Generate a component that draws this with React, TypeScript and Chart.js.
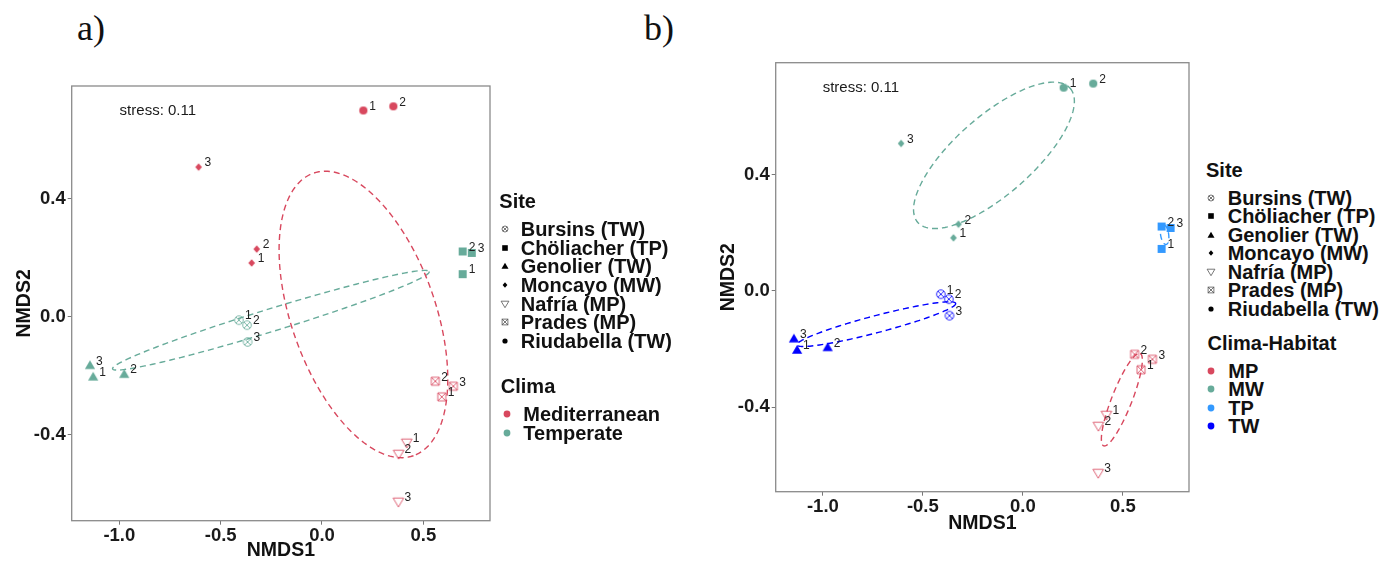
import React, { useEffect, useRef } from 'react';
import { Chart, registerables } from 'chart.js';
Chart.register(...registerables);

const FONT = '"Liberation Sans", Arial, Helvetica, sans-serif';

// ---------------- data ----------------
const SITES = ['Bursins (TW)', 'Chöliacher (TP)', 'Genolier (TW)', 'Moncayo (MW)', 'Nafría (MP)', 'Prades (MP)', 'Riudabella (TW)'];
const REPLICATES = [['1', '2', '3'], ['1', '2', '3'], ['1', '2', '3'], ['1', '2', '3'], ['1', '2', '3'], ['1', '2', '3'], ['1', '2']];

const BURSINS_X = [-0.410, -0.370, -0.367];
const BURSINS_Y = [-0.011, -0.028, -0.085];
const CHOLIACHER_X = [0.694, 0.694, 0.739];
const CHOLIACHER_Y = [0.145, 0.222, 0.217];
const GENOLIER_X = [-1.129, -0.976, -1.145];
const GENOLIER_Y = [-0.203, -0.194, -0.164];
const MONCAYO_X = [-0.347, -0.322, -0.609];
const MONCAYO_Y = [0.183, 0.230, 0.508];
const NAFRIA_X = [0.418, 0.378, 0.377];
const NAFRIA_Y = [-0.427, -0.465, -0.627];
const PRADES_X = [0.591, 0.559, 0.648];
const PRADES_Y = [-0.271, -0.218, -0.235];
const RIUDABELLA_X = [0.204, 0.352];
const RIUDABELLA_Y = [0.700, 0.714];

const SITE_X = [BURSINS_X, CHOLIACHER_X, GENOLIER_X, MONCAYO_X, NAFRIA_X, PRADES_X, RIUDABELLA_X];
const SITE_Y = [BURSINS_Y, CHOLIACHER_Y, GENOLIER_Y, MONCAYO_Y, NAFRIA_Y, PRADES_Y, RIUDABELLA_Y];

const CLIMA = ['Mediterranean', 'Temperate'];
const SITE_CLIMA = ['Temperate', 'Temperate', 'Temperate', 'Mediterranean', 'Mediterranean', 'Mediterranean', 'Mediterranean'];
const HABITAT = ['MP', 'MW', 'TP', 'TW'];
const SITE_HABITAT = ['TW', 'TP', 'TW', 'MW', 'MP', 'MP', 'MW'];

// ellipse conjugate semi-axes (ux, uy, vx, vy) per group
const CLIMA_ELLIPSE_AXES = [[0.247, -0.479, -0.335, -0.081], [0.781, 0.165, 0.0164, -0.0366]];
const HABITAT_ELLIPSE_AXES = [[0.0913, 0.159, 0.0465, -0.0134], [0.381, 0.231, 0.129, -0.101], [-0.0075, 0.0344, 0.02, 0.002], [0.397, 0.0716, 0.0108, -0.0283]];

const X_TICKS = [-1.0, -0.5, 0, 0.5];
const Y_TICKS = [-0.4, 0, 0.4];
const STRESS_LABEL = 'stress: 0.11';
const STRESS_AT = [-0.81, 0.70];

// ---------------- styles ----------------
const CLIMA_COLORS = ['#D8485E', '#67AB9A'];
const HABITAT_COLORS = ['#D8485E', '#67AB9A', '#3399FF', '#0000FF'];
type Shape = 'circle' | 'diamond' | 'square' | 'triangle' | 'triangleDownOpen' | 'squareX' | 'circleX';
const SITE_SHAPES: Shape[] = ['circleX', 'square', 'triangle', 'diamond', 'triangleDownOpen', 'squareX', 'circle'];

function makeMarker(shape: Shape, color: string): HTMLCanvasElement {
  const S = 16;
  const c = document.createElement('canvas');
  c.width = S; c.height = S;
  const ctx = c.getContext('2d')!;
  const m = S / 2;
  ctx.fillStyle = color; ctx.strokeStyle = color; ctx.lineWidth = 1;
  ctx.beginPath();
  switch (shape) {
    case 'circle':
      ctx.arc(m, m, 4.1, 0, Math.PI * 2); ctx.fill(); break;
    case 'diamond':
      ctx.moveTo(m, m - 3.7); ctx.lineTo(m + 3.3, m); ctx.lineTo(m, m + 3.7); ctx.lineTo(m - 3.3, m); ctx.closePath(); ctx.fill(); break;
    case 'square':
      ctx.fillRect(m - 4, m - 4, 8, 8); break;
    case 'triangle':
      ctx.moveTo(m, m - 5); ctx.lineTo(m + 5.1, m + 3.7); ctx.lineTo(m - 5.1, m + 3.7); ctx.closePath(); ctx.fill(); break;
    case 'triangleDownOpen':
      ctx.globalAlpha = 0.85;
      ctx.moveTo(m - 5.3, m - 3.8); ctx.lineTo(m + 5.3, m - 3.8); ctx.lineTo(m, m + 5.1); ctx.closePath(); ctx.stroke(); break;
    case 'squareX':
      ctx.globalAlpha = 0.85;
      ctx.rect(m - 4, m - 4, 8, 8);
      ctx.moveTo(m - 4, m - 4); ctx.lineTo(m + 4, m + 4);
      ctx.moveTo(m + 4, m - 4); ctx.lineTo(m - 4, m + 4);
      ctx.stroke(); break;
    case 'circleX': {
      ctx.globalAlpha = 0.85;
      const r = 4.3, d = r * 0.707;
      ctx.arc(m, m, r, 0, Math.PI * 2);
      ctx.moveTo(m - d, m - d); ctx.lineTo(m + d, m + d);
      ctx.moveTo(m + d, m - d); ctx.lineTo(m - d, m + d);
      ctx.stroke(); break;
    }
  }
  return c;
}

const mean = (a: number[]) => a.reduce((s, v) => s + v, 0) / a.length;

function ellipsePoints(cx: number, cy: number, ax: number[]) {
  const pts: { x: number; y: number }[] = [];
  const N = 160;
  for (let k = 0; k <= N; k++) {
    const t = (2 * Math.PI * k) / N;
    pts.push({ x: cx + ax[0] * Math.cos(t) + ax[2] * Math.sin(t), y: cy + ax[1] * Math.cos(t) + ax[3] * Math.sin(t) });
  }
  return pts;
}

function buildDatasets(groups: string[], siteGroup: string[], axesList: number[][], colors: string[]) {
  const ds: any[] = [];
  SITES.forEach((_, si) => {
    const color = colors[groups.indexOf(siteGroup[si])];
    ds.push({
      data: SITE_X[si].map((x, j) => ({ x, y: SITE_Y[si][j] })),
      pointStyle: makeMarker(SITE_SHAPES[si], color),
      pointRadius: 5,
      showLine: false,
      pointLabels: REPLICATES[si],
    });
  });
  groups.forEach((g, gi) => {
    const xs: number[] = [], ys: number[] = [];
    SITES.forEach((_, si) => {
      if (siteGroup[si] === g) { xs.push(...SITE_X[si]); ys.push(...SITE_Y[si]); }
    });
    ds.push({
      data: ellipsePoints(mean(xs), mean(ys), axesList[gi]),
      showLine: true,
      borderColor: colors[gi],
      borderWidth: 1.4,
      borderDash: [6, 4],
      pointRadius: 0,
      fill: false,
      tension: 0,
    });
  });
  return ds;
}

const panelPlugin = {
  id: 'panelDecor',
  afterDatasetsDraw(chart: any) {
    const ctx = chart.ctx;
    ctx.save();
    ctx.font = `12px ${FONT}`;
    ctx.fillStyle = '#222';
    ctx.textAlign = 'left';
    ctx.textBaseline = 'middle';
    chart.data.datasets.forEach((ds: any, i: number) => {
      if (!ds.pointLabels) return;
      const meta = chart.getDatasetMeta(i);
      meta.data.forEach((el: any, j: number) => ctx.fillText(ds.pointLabels[j], el.x + 6, el.y - 4));
    });
    ctx.font = `15px ${FONT}`;
    ctx.fillStyle = '#1a1a1a';
    ctx.textAlign = 'center';
    ctx.fillText(STRESS_LABEL, chart.scales.x.getPixelForValue(STRESS_AT[0]), chart.scales.y.getPixelForValue(STRESS_AT[1]));
    const a = chart.chartArea;
    ctx.strokeStyle = '#8a8a8a';
    ctx.lineWidth = 1.3;
    ctx.setLineDash([]);
    ctx.strokeRect(a.left, a.top, a.right - a.left, a.bottom - a.top);
    ctx.restore();
  },
};

type PanelProps = {
  left: number; width: number; height: number;
  padding: { top: number; right: number; bottom: number; left: number };
  yAxisW: number; xAxisH: number;
  xRange: number[]; yRange: number[];
  yTitlePad: number; xTitlePad: number;
  groups: string[]; siteGroup: string[]; axes: number[][]; colors: string[];
};

function Panel(p: PanelProps) {
  const ref = useRef<HTMLCanvasElement>(null);
  useEffect(() => {
    const tickFont = { family: FONT, size: 18.5, weight: 'bold' as const };
    const titleFont = { family: FONT, size: 19.5, weight: 'bold' as const };
    const grid = { display: true, drawOnChartArea: false, drawTicks: true, tickLength: 4, color: '#777', lineWidth: 1 };
    const chart = new Chart(ref.current!, {
      type: 'scatter',
      data: { datasets: buildDatasets(p.groups, p.siteGroup, p.axes, p.colors) },
      options: {
        animation: false,
        responsive: false,
        events: [],
        layout: { padding: p.padding },
        plugins: { legend: { display: false }, tooltip: { enabled: false } },
        scales: {
          x: {
            type: 'linear', min: p.xRange[0], max: p.xRange[1],
            afterBuildTicks: (s: any) => { s.ticks = X_TICKS.map((v) => ({ value: v })); },
            afterFit: (s: any) => { s.height = p.xAxisH; },
            ticks: { callback: (v: any) => Number(v).toFixed(1), font: tickFont, color: '#1a1a1a', padding: 0, maxRotation: 0, autoSkip: false },
            grid,
            border: { display: false },
            title: { display: true, text: 'NMDS1', font: titleFont, color: '#111', padding: { top: 0, bottom: p.xTitlePad } },
          },
          y: {
            type: 'linear', min: p.yRange[0], max: p.yRange[1],
            afterBuildTicks: (s: any) => { s.ticks = Y_TICKS.map((v) => ({ value: v })); },
            afterFit: (s: any) => { s.width = p.yAxisW; },
            ticks: { callback: (v: any) => Number(v).toFixed(1), font: tickFont, color: '#1a1a1a', padding: 2, autoSkip: false },
            grid,
            border: { display: false },
            title: { display: true, text: 'NMDS2', font: titleFont, color: '#111', padding: { top: p.yTitlePad, bottom: 0 } },
          },
        },
      } as any,
      plugins: [panelPlugin],
    });
    return () => chart.destroy();
  }, []);
  return (
    <canvas
      ref={ref}
      width={p.width}
      height={p.height}
      style={{ position: 'absolute', left: p.left, top: 0, width: p.width, height: p.height }}
    />
  );
}

function Icon({ shape, x, y, color }: { shape: Shape | 'dot'; x: number; y: number; color: string }) {
  let el: any = null;
  const c = 7;
  switch (shape) {
    case 'dot': el = <circle cx={c} cy={c} r={3.4} fill={color} />; break;
    case 'circle': el = <circle cx={c} cy={c} r={2.6} fill={color} />; break;
    case 'diamond': el = <polygon points={`${c},${c - 2.7} ${c + 2.4},${c} ${c},${c + 2.7} ${c - 2.4},${c}`} fill={color} />; break;
    case 'square': el = <rect x={c - 2.8} y={c - 2.8} width={5.6} height={5.6} fill={color} />; break;
    case 'triangle': el = <polygon points={`${c},${c - 3.3} ${c + 3.5},${c + 2.7} ${c - 3.5},${c + 2.7}`} fill={color} />; break;
    case 'triangleDownOpen': el = <polygon points={`${c - 3.9},${c - 2.8} ${c + 3.9},${c - 2.8} ${c},${c + 3.7}`} fill="none" stroke="#555" strokeWidth={0.8} />; break;
    case 'squareX': el = (
      <g fill="none" stroke="#555" strokeWidth={0.8}>
        <rect x={c - 2.9} y={c - 2.9} width={5.8} height={5.8} />
        <line x1={c - 2.9} y1={c - 2.9} x2={c + 2.9} y2={c + 2.9} />
        <line x1={c + 2.9} y1={c - 2.9} x2={c - 2.9} y2={c + 2.9} />
      </g>
    ); break;
    case 'circleX': el = (
      <g fill="none" stroke="#555" strokeWidth={0.8}>
        <circle cx={c} cy={c} r={3} />
        <line x1={c - 2.1} y1={c - 2.1} x2={c + 2.1} y2={c + 2.1} />
        <line x1={c + 2.1} y1={c - 2.1} x2={c - 2.1} y2={c + 2.1} />
      </g>
    ); break;
  }
  return (
    <svg width={14} height={14} style={{ position: 'absolute', left: x - c, top: y - c }}>
      {el}
    </svg>
  );
}

const textStyle = (x: number, y: number): React.CSSProperties => ({
  position: 'absolute', left: x, top: y - 10, height: 20, lineHeight: '20px', fontSize: 20, fontWeight: 'bold',
  fontFamily: FONT, color: '#111', whiteSpace: 'nowrap',
});

type LegendProps = {
  titleX: number; siteTitleY: number; rowY0: number; rowStep: number; symX: number; textX: number;
  groupTitle: string; groupTitleY: number; groupRowY0: number; groupStep: number; groups: string[]; colors: string[];
  dotX: number; groupTextX: number;
};

function Legend(l: LegendProps) {
  return (
    <>
      <div style={textStyle(l.titleX, l.siteTitleY)}>Site</div>
      {SITES.map((s, i) => (
        <React.Fragment key={s}>
          <Icon shape={SITE_SHAPES[i]} x={l.symX} y={l.rowY0 + i * l.rowStep} color="#000" />
          <div style={textStyle(l.textX, l.rowY0 + i * l.rowStep)}>{s}</div>
        </React.Fragment>
      ))}
      <div style={textStyle(l.titleX + 1.5, l.groupTitleY)}>{l.groupTitle}</div>
      {l.groups.map((g, i) => (
        <React.Fragment key={g}>
          <Icon shape="dot" x={l.dotX} y={l.groupRowY0 + i * l.groupStep} color={l.colors[i]} />
          <div style={textStyle(l.groupTextX, l.groupRowY0 + i * l.groupStep)}>{g}</div>
        </React.Fragment>
      ))}
    </>
  );
}

const panelLabel = (x: number): React.CSSProperties => ({
  position: 'absolute', left: x, top: 10, fontFamily: '"Liberation Serif", "Times New Roman", serif',
  fontSize: 36, lineHeight: '36px', color: '#111',
});

export default function App() {
  return (
    <div style={{ position: 'absolute', left: 0, top: 0, width: 1394, height: 564, background: '#fff', overflow: 'hidden' }}>
      <div style={panelLabel(77)}>a)</div>
      <div style={panelLabel(644)}>b)</div>
      <Panel
        left={0} width={500} height={564}
        padding={{ top: 86, right: 10, bottom: 0, left: 0 }}
        yAxisW={71.7} xAxisH={43.3}
        xRange={[-1.235, 0.829]} yRange={[-0.691, 0.783]}
        yTitlePad={13.3} xTitlePad={1.5}
        groups={CLIMA} siteGroup={SITE_CLIMA} axes={CLIMA_ELLIPSE_AXES} colors={CLIMA_COLORS}
      />
      <Legend
        titleX={499.3} siteTitleY={200.7} rowY0={229} rowStep={18.67} symX={505} textX={520.7}
        groupTitle="Clima" groupTitleY={386} groupRowY0={414.3} groupStep={18.4} groups={CLIMA} colors={CLIMA_COLORS}
        dotX={506.7} groupTextX={523.3}
      />
      <Panel
        left={700} width={495} height={564}
        padding={{ top: 62.7, right: 5.7, bottom: 24, left: 0 }}
        yAxisW={75.7} xAxisH={48.3}
        xRange={[-1.236, 0.831]} yRange={[-0.691, 0.786]}
        yTitlePad={17.3} xTitlePad={5}
        groups={HABITAT} siteGroup={SITE_HABITAT} axes={HABITAT_ELLIPSE_AXES} colors={HABITAT_COLORS}
      />
      <Legend
        titleX={1206} siteTitleY={170} rowY0={197.7} rowStep={18.5} symX={1211} textX={1227.7}
        groupTitle="Clima-Habitat" groupTitleY={343.3} groupRowY0={370.7} groupStep={18.43} groups={HABITAT} colors={HABITAT_COLORS}
        dotX={1211} groupTextX={1228.3}
      />
    </div>
  );
}
